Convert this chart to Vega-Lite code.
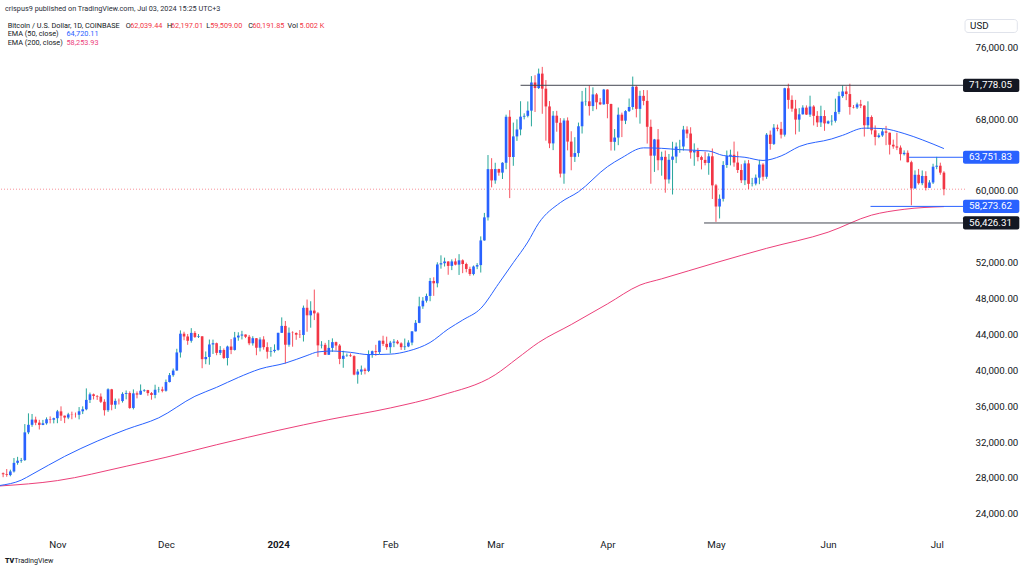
{
"$schema": "https://vega.github.io/schema/vega-lite/v6.json",
"width": 965, "height": 531,
"autosize": "none",
"padding": {"left": 0, "right": 59, "top": 0, "bottom": 39},
"background": "white",
"config": {"view": {"stroke": null}, "font": "Roboto", "text": {"font": "Roboto"}, "axis": {"grid": false, "domain": false, "ticks": false}},
"datasets": {
"one": [{}],
"candles": [
{"d":"2023-10-17","o":28510,"h":28610,"l":28080,"c":28410},
{"d":"2023-10-18","o":28410,"h":28990,"l":28130,"c":28320},
{"d":"2023-10-19","o":28320,"h":28920,"l":28180,"c":28720},
{"d":"2023-10-20","o":28720,"h":30220,"l":28600,"c":29680},
{"d":"2023-10-21","o":29680,"h":30350,"l":29470,"c":29920},
{"d":"2023-10-22","o":29920,"h":30230,"l":29690,"c":29990},
{"d":"2023-10-23","o":29990,"h":34000,"l":29890,"c":33080},
{"d":"2023-10-24","o":33080,"h":35200,"l":32880,"c":33920},
{"d":"2023-10-25","o":33920,"h":35130,"l":33700,"c":34500},
{"d":"2023-10-26","o":34500,"h":34830,"l":33880,"c":34160},
{"d":"2023-10-27","o":34160,"h":34480,"l":33400,"c":33910},
{"d":"2023-10-28","o":33910,"h":34470,"l":33880,"c":34090},
{"d":"2023-10-29","o":34090,"h":34750,"l":33940,"c":34540},
{"d":"2023-10-30","o":34540,"h":34860,"l":34080,"c":34490},
{"d":"2023-10-31","o":34490,"h":34720,"l":34080,"c":34660},
{"d":"2023-11-01","o":34660,"h":35580,"l":34100,"c":35420},
{"d":"2023-11-02","o":35420,"h":35980,"l":34360,"c":34940},
{"d":"2023-11-03","o":34940,"h":34950,"l":34110,"c":34730},
{"d":"2023-11-04","o":34730,"h":35260,"l":34550,"c":35080},
{"d":"2023-11-05","o":35080,"h":35390,"l":34540,"c":35050},
{"d":"2023-11-06","o":35050,"h":35290,"l":34730,"c":35040},
{"d":"2023-11-07","o":35040,"h":35900,"l":34530,"c":35430},
{"d":"2023-11-08","o":35430,"h":35980,"l":35120,"c":35650},
{"d":"2023-11-09","o":35650,"h":37980,"l":35540,"c":36700},
{"d":"2023-11-10","o":36700,"h":37520,"l":36350,"c":37320},
{"d":"2023-11-11","o":37320,"h":37410,"l":36750,"c":37140},
{"d":"2023-11-12","o":37140,"h":37230,"l":36700,"c":37070},
{"d":"2023-11-13","o":37070,"h":37420,"l":36350,"c":36490},
{"d":"2023-11-14","o":36490,"h":36770,"l":34950,"c":35550},
{"d":"2023-11-15","o":35550,"h":37990,"l":35360,"c":37880},
{"d":"2023-11-16","o":37880,"h":37930,"l":35540,"c":36160},
{"d":"2023-11-17","o":36160,"h":36850,"l":35700,"c":36590},
{"d":"2023-11-18","o":36590,"h":36850,"l":36190,"c":36570},
{"d":"2023-11-19","o":36570,"h":37550,"l":36400,"c":37370},
{"d":"2023-11-20","o":37370,"h":37750,"l":36760,"c":37470},
{"d":"2023-11-21","o":37470,"h":37650,"l":35700,"c":35800},
{"d":"2023-11-22","o":35800,"h":37870,"l":35640,"c":37430},
{"d":"2023-11-23","o":37430,"h":37650,"l":36870,"c":37290},
{"d":"2023-11-24","o":37290,"h":38420,"l":37260,"c":37720},
{"d":"2023-11-25","o":37720,"h":37900,"l":37600,"c":37790},
{"d":"2023-11-26","o":37790,"h":37820,"l":37160,"c":37460},
{"d":"2023-11-27","o":37460,"h":37580,"l":36720,"c":37250},
{"d":"2023-11-28","o":37250,"h":38390,"l":36880,"c":37830},
{"d":"2023-11-29","o":37830,"h":38150,"l":37520,"c":37860},
{"d":"2023-11-30","o":37860,"h":38170,"l":37540,"c":37720},
{"d":"2023-12-01","o":37720,"h":38970,"l":37620,"c":38690},
{"d":"2023-12-02","o":38690,"h":39700,"l":38650,"c":39460},
{"d":"2023-12-03","o":39460,"h":40200,"l":39280,"c":39970},
{"d":"2023-12-04","o":39970,"h":42400,"l":39970,"c":41990},
{"d":"2023-12-05","o":41990,"h":44450,"l":41420,"c":44080},
{"d":"2023-12-06","o":44080,"h":44300,"l":43350,"c":43770},
{"d":"2023-12-07","o":43770,"h":44050,"l":42840,"c":43290},
{"d":"2023-12-08","o":43290,"h":44700,"l":43080,"c":44170},
{"d":"2023-12-09","o":44170,"h":44370,"l":43600,"c":43720},
{"d":"2023-12-10","o":43720,"h":44040,"l":43600,"c":43790},
{"d":"2023-12-11","o":43790,"h":43800,"l":40230,"c":41240},
{"d":"2023-12-12","o":41240,"h":42100,"l":40680,"c":41480},
{"d":"2023-12-13","o":41480,"h":43430,"l":40620,"c":42880},
{"d":"2023-12-14","o":42880,"h":43420,"l":41820,"c":43020},
{"d":"2023-12-15","o":43020,"h":43090,"l":41680,"c":41940},
{"d":"2023-12-16","o":41940,"h":42700,"l":41700,"c":42260},
{"d":"2023-12-17","o":42260,"h":42440,"l":41250,"c":41370},
{"d":"2023-12-18","o":41370,"h":42750,"l":40540,"c":42650},
{"d":"2023-12-19","o":42650,"h":43480,"l":41800,"c":42270},
{"d":"2023-12-20","o":42270,"h":44280,"l":42200,"c":43660},
{"d":"2023-12-21","o":43660,"h":44240,"l":43300,"c":43870},
{"d":"2023-12-22","o":43870,"h":44400,"l":43440,"c":43990},
{"d":"2023-12-23","o":43990,"h":44000,"l":43590,"c":43740},
{"d":"2023-12-24","o":43740,"h":43940,"l":42800,"c":43010},
{"d":"2023-12-25","o":43010,"h":43800,"l":42750,"c":43580},
{"d":"2023-12-26","o":43580,"h":43600,"l":41680,"c":42520},
{"d":"2023-12-27","o":42520,"h":43680,"l":42100,"c":43440},
{"d":"2023-12-28","o":43440,"h":43800,"l":42300,"c":42580},
{"d":"2023-12-29","o":42580,"h":43120,"l":41300,"c":42070},
{"d":"2023-12-30","o":42070,"h":42600,"l":41520,"c":42140},
{"d":"2023-12-31","o":42140,"h":42890,"l":41970,"c":42280},
{"d":"2024-01-01","o":42280,"h":44180,"l":42180,"c":44180},
{"d":"2024-01-02","o":44180,"h":45900,"l":44170,"c":44950},
{"d":"2024-01-03","o":44950,"h":45500,"l":40750,"c":42850},
{"d":"2024-01-04","o":42850,"h":44770,"l":42630,"c":44190},
{"d":"2024-01-05","o":44190,"h":44350,"l":42630,"c":44160},
{"d":"2024-01-06","o":44160,"h":44230,"l":43400,"c":43970},
{"d":"2024-01-07","o":43970,"h":44490,"l":43600,"c":43940},
{"d":"2024-01-08","o":43940,"h":47220,"l":43210,"c":46970},
{"d":"2024-01-09","o":46970,"h":47890,"l":44300,"c":46130},
{"d":"2024-01-10","o":46130,"h":47700,"l":44750,"c":46660},
{"d":"2024-01-11","o":46660,"h":49000,"l":45600,"c":46350},
{"d":"2024-01-12","o":46350,"h":46500,"l":41500,"c":42780},
{"d":"2024-01-13","o":42780,"h":43250,"l":42440,"c":42840},
{"d":"2024-01-14","o":42840,"h":43060,"l":41720,"c":41730},
{"d":"2024-01-15","o":41730,"h":43380,"l":41720,"c":42500},
{"d":"2024-01-16","o":42500,"h":43560,"l":42050,"c":43140},
{"d":"2024-01-17","o":43140,"h":43200,"l":42200,"c":42760},
{"d":"2024-01-18","o":42760,"h":42930,"l":40680,"c":41270},
{"d":"2024-01-19","o":41270,"h":42180,"l":40280,"c":41620},
{"d":"2024-01-20","o":41620,"h":41870,"l":41500,"c":41660},
{"d":"2024-01-21","o":41660,"h":41880,"l":41500,"c":41580},
{"d":"2024-01-22","o":41580,"h":41670,"l":39440,"c":39520},
{"d":"2024-01-23","o":39520,"h":40130,"l":38510,"c":39860},
{"d":"2024-01-24","o":39860,"h":40530,"l":39500,"c":40090},
{"d":"2024-01-25","o":40090,"h":40280,"l":39550,"c":39930},
{"d":"2024-01-26","o":39930,"h":42220,"l":39800,"c":41820},
{"d":"2024-01-27","o":41820,"h":42200,"l":41400,"c":42130},
{"d":"2024-01-28","o":42130,"h":42840,"l":41620,"c":42030},
{"d":"2024-01-29","o":42030,"h":43300,"l":41820,"c":43300},
{"d":"2024-01-30","o":43300,"h":43850,"l":42700,"c":42950},
{"d":"2024-01-31","o":42950,"h":43750,"l":42280,"c":42580},
{"d":"2024-02-01","o":42580,"h":43280,"l":41880,"c":43080},
{"d":"2024-02-02","o":43080,"h":43480,"l":42580,"c":43200},
{"d":"2024-02-03","o":43200,"h":43380,"l":42890,"c":43000},
{"d":"2024-02-04","o":43000,"h":43120,"l":42270,"c":42580},
{"d":"2024-02-05","o":42580,"h":43540,"l":42260,"c":42660},
{"d":"2024-02-06","o":42660,"h":43350,"l":42580,"c":43090},
{"d":"2024-02-07","o":43090,"h":44370,"l":42790,"c":44340},
{"d":"2024-02-08","o":44340,"h":45600,"l":44330,"c":45290},
{"d":"2024-02-09","o":45290,"h":48200,"l":45250,"c":47130},
{"d":"2024-02-10","o":47130,"h":48160,"l":46850,"c":47760},
{"d":"2024-02-11","o":47760,"h":48550,"l":47550,"c":48290},
{"d":"2024-02-12","o":48290,"h":50300,"l":47700,"c":49960},
{"d":"2024-02-13","o":49960,"h":50370,"l":48300,"c":49700},
{"d":"2024-02-14","o":49700,"h":52040,"l":49250,"c":51800},
{"d":"2024-02-15","o":51800,"h":52820,"l":51330,"c":51940},
{"d":"2024-02-16","o":51940,"h":52560,"l":51570,"c":52130},
{"d":"2024-02-17","o":52130,"h":52170,"l":50650,"c":51640},
{"d":"2024-02-18","o":51640,"h":52370,"l":51170,"c":52140},
{"d":"2024-02-19","o":52140,"h":52480,"l":51700,"c":51780},
{"d":"2024-02-20","o":51780,"h":52950,"l":50630,"c":52260},
{"d":"2024-02-21","o":52260,"h":52370,"l":50830,"c":51850},
{"d":"2024-02-22","o":51850,"h":52000,"l":50920,"c":51300},
{"d":"2024-02-23","o":51300,"h":51550,"l":50530,"c":50730},
{"d":"2024-02-24","o":50730,"h":51680,"l":50580,"c":51570},
{"d":"2024-02-25","o":51570,"h":51950,"l":51280,"c":51730},
{"d":"2024-02-26","o":51730,"h":54930,"l":50900,"c":54480},
{"d":"2024-02-27","o":54480,"h":57550,"l":54450,"c":57050},
{"d":"2024-02-28","o":57050,"h":64000,"l":56700,"c":62430},
{"d":"2024-02-29","o":62430,"h":63650,"l":60400,"c":61170},
{"d":"2024-03-01","o":61170,"h":63140,"l":60800,"c":62440},
{"d":"2024-03-02","o":62440,"h":62480,"l":61700,"c":62040},
{"d":"2024-03-03","o":62040,"h":63200,"l":61330,"c":63140},
{"d":"2024-03-04","o":63140,"h":68500,"l":62420,"c":68270},
{"d":"2024-03-05","o":68270,"h":69000,"l":59200,"c":63780},
{"d":"2024-03-06","o":63780,"h":67620,"l":62800,"c":66080},
{"d":"2024-03-07","o":66080,"h":67980,"l":65580,"c":66850},
{"d":"2024-03-08","o":66850,"h":70000,"l":66200,"c":68280},
{"d":"2024-03-09","o":68280,"h":68650,"l":67980,"c":68370},
{"d":"2024-03-10","o":68370,"h":69980,"l":68200,"c":68950},
{"d":"2024-03-11","o":68950,"h":72800,"l":67200,"c":72090},
{"d":"2024-03-12","o":72090,"h":72900,"l":68800,"c":71470},
{"d":"2024-03-13","o":71470,"h":73640,"l":71360,"c":73080},
{"d":"2024-03-14","o":73080,"h":73830,"l":68600,"c":71400},
{"d":"2024-03-15","o":71400,"h":72360,"l":65600,"c":69420},
{"d":"2024-03-16","o":69420,"h":70020,"l":64770,"c":65300},
{"d":"2024-03-17","o":65300,"h":68900,"l":64550,"c":68390},
{"d":"2024-03-18","o":68390,"h":68930,"l":66600,"c":67600},
{"d":"2024-03-19","o":67600,"h":68120,"l":61500,"c":61930},
{"d":"2024-03-20","o":61930,"h":68100,"l":60800,"c":67850},
{"d":"2024-03-21","o":67850,"h":68200,"l":64520,"c":65500},
{"d":"2024-03-22","o":65500,"h":66650,"l":62300,"c":63800},
{"d":"2024-03-23","o":63800,"h":65990,"l":63230,"c":64220},
{"d":"2024-03-24","o":64220,"h":67620,"l":63800,"c":67210},
{"d":"2024-03-25","o":67210,"h":71150,"l":66400,"c":69960},
{"d":"2024-03-26","o":69960,"h":71500,"l":69500,"c":69990},
{"d":"2024-03-27","o":69990,"h":71770,"l":68400,"c":69460},
{"d":"2024-03-28","o":69460,"h":71550,"l":68900,"c":70760},
{"d":"2024-03-29","o":70760,"h":70920,"l":69100,"c":69880},
{"d":"2024-03-30","o":69880,"h":70350,"l":69570,"c":69650},
{"d":"2024-03-31","o":69650,"h":71370,"l":69620,"c":71300},
{"d":"2024-04-01","o":71300,"h":71330,"l":68100,"c":69700},
{"d":"2024-04-02","o":69700,"h":69710,"l":64500,"c":65470},
{"d":"2024-04-03","o":65470,"h":66900,"l":64500,"c":65950},
{"d":"2024-04-04","o":65950,"h":69300,"l":65100,"c":68500},
{"d":"2024-04-05","o":68500,"h":68730,"l":66000,"c":67830},
{"d":"2024-04-06","o":67830,"h":69000,"l":67450,"c":68900},
{"d":"2024-04-07","o":68900,"h":70300,"l":68800,"c":69360},
{"d":"2024-04-08","o":69360,"h":72750,"l":69050,"c":71620},
{"d":"2024-04-09","o":71620,"h":71750,"l":68200,"c":69150},
{"d":"2024-04-10","o":69150,"h":71170,"l":67500,"c":70600},
{"d":"2024-04-11","o":70600,"h":71250,"l":69550,"c":70040},
{"d":"2024-04-12","o":70040,"h":71230,"l":65280,"c":67150},
{"d":"2024-04-13","o":67150,"h":67950,"l":60800,"c":63930},
{"d":"2024-04-14","o":63930,"h":65800,"l":62120,"c":65740},
{"d":"2024-04-15","o":65740,"h":66900,"l":62300,"c":63420},
{"d":"2024-04-16","o":63420,"h":64370,"l":61700,"c":63800},
{"d":"2024-04-17","o":63800,"h":64500,"l":59800,"c":61280},
{"d":"2024-04-18","o":61280,"h":64120,"l":60820,"c":63470},
{"d":"2024-04-19","o":63470,"h":65480,"l":59600,"c":63830},
{"d":"2024-04-20","o":63830,"h":65400,"l":63100,"c":64940},
{"d":"2024-04-21","o":64940,"h":65700,"l":64250,"c":64950},
{"d":"2024-04-22","o":64950,"h":67250,"l":64500,"c":66840},
{"d":"2024-04-23","o":66840,"h":67200,"l":65880,"c":66400},
{"d":"2024-04-24","o":66400,"h":67100,"l":63600,"c":64290},
{"d":"2024-04-25","o":64290,"h":65300,"l":62800,"c":64500},
{"d":"2024-04-26","o":64500,"h":64800,"l":63300,"c":63770},
{"d":"2024-04-27","o":63770,"h":63930,"l":62400,"c":63460},
{"d":"2024-04-28","o":63460,"h":64370,"l":62850,"c":63120},
{"d":"2024-04-29","o":63120,"h":64200,"l":61800,"c":63860},
{"d":"2024-04-30","o":63860,"h":64730,"l":59100,"c":60620},
{"d":"2024-05-01","o":60620,"h":60780,"l":56550,"c":58260},
{"d":"2024-05-02","o":58260,"h":59600,"l":56930,"c":59120},
{"d":"2024-05-03","o":59120,"h":63320,"l":58820,"c":62890},
{"d":"2024-05-04","o":62890,"h":64500,"l":62570,"c":63890},
{"d":"2024-05-05","o":63890,"h":64600,"l":62850,"c":64030},
{"d":"2024-05-06","o":64030,"h":65500,"l":62700,"c":63160},
{"d":"2024-05-07","o":63160,"h":64400,"l":62000,"c":62330},
{"d":"2024-05-08","o":62330,"h":62980,"l":60880,"c":61190},
{"d":"2024-05-09","o":61190,"h":63400,"l":60650,"c":63070},
{"d":"2024-05-10","o":63070,"h":63450,"l":60200,"c":60790},
{"d":"2024-05-11","o":60790,"h":61450,"l":60500,"c":60820},
{"d":"2024-05-12","o":60820,"h":61830,"l":60620,"c":61480},
{"d":"2024-05-13","o":61480,"h":63450,"l":60750,"c":62940},
{"d":"2024-05-14","o":62940,"h":63100,"l":61150,"c":61580},
{"d":"2024-05-15","o":61580,"h":66450,"l":61350,"c":66270},
{"d":"2024-05-16","o":66270,"h":66730,"l":64600,"c":65240},
{"d":"2024-05-17","o":65240,"h":67450,"l":65120,"c":67050},
{"d":"2024-05-18","o":67050,"h":67400,"l":66650,"c":66920},
{"d":"2024-05-19","o":66920,"h":67700,"l":65850,"c":66270},
{"d":"2024-05-20","o":66270,"h":71500,"l":66060,"c":71450},
{"d":"2024-05-21","o":71450,"h":71950,"l":69160,"c":70150},
{"d":"2024-05-22","o":70150,"h":70650,"l":68830,"c":69170},
{"d":"2024-05-23","o":69170,"h":70150,"l":66300,"c":67950},
{"d":"2024-05-24","o":67950,"h":69230,"l":66600,"c":68540},
{"d":"2024-05-25","o":68540,"h":69550,"l":68520,"c":69290},
{"d":"2024-05-26","o":69290,"h":69540,"l":68470,"c":68510},
{"d":"2024-05-27","o":68510,"h":70620,"l":68250,"c":69410},
{"d":"2024-05-28","o":69410,"h":69560,"l":67300,"c":68370},
{"d":"2024-05-29","o":68370,"h":68900,"l":67130,"c":67640},
{"d":"2024-05-30","o":67640,"h":69500,"l":67130,"c":68350},
{"d":"2024-05-31","o":68350,"h":69000,"l":66700,"c":67530},
{"d":"2024-06-01","o":67530,"h":67860,"l":67450,"c":67760},
{"d":"2024-06-02","o":67760,"h":68450,"l":67300,"c":67820},
{"d":"2024-06-03","o":67820,"h":70290,"l":67620,"c":68810},
{"d":"2024-06-04","o":68810,"h":71060,"l":68560,"c":70570},
{"d":"2024-06-05","o":70570,"h":71770,"l":70380,"c":71090},
{"d":"2024-06-06","o":71090,"h":71650,"l":70120,"c":70800},
{"d":"2024-06-07","o":70800,"h":71950,"l":68500,"c":69350},
{"d":"2024-06-08","o":69350,"h":69580,"l":69200,"c":69310},
{"d":"2024-06-09","o":69310,"h":69850,"l":69140,"c":69650},
{"d":"2024-06-10","o":69650,"h":70150,"l":69230,"c":69510},
{"d":"2024-06-11","o":69510,"h":69560,"l":66060,"c":67320},
{"d":"2024-06-12","o":67320,"h":69990,"l":66900,"c":68240},
{"d":"2024-06-13","o":68240,"h":68420,"l":66300,"c":66760},
{"d":"2024-06-14","o":66760,"h":67300,"l":65080,"c":66010},
{"d":"2024-06-15","o":66010,"h":66430,"l":65880,"c":66190},
{"d":"2024-06-16","o":66190,"h":66950,"l":66030,"c":66640},
{"d":"2024-06-17","o":66640,"h":67250,"l":65100,"c":66490},
{"d":"2024-06-18","o":66490,"h":66500,"l":64060,"c":65150},
{"d":"2024-06-19","o":65150,"h":65720,"l":64700,"c":64960},
{"d":"2024-06-20","o":64960,"h":66480,"l":64550,"c":64830},
{"d":"2024-06-21","o":64830,"h":65070,"l":63400,"c":64100},
{"d":"2024-06-22","o":64100,"h":64520,"l":63950,"c":64250},
{"d":"2024-06-23","o":64250,"h":64520,"l":63180,"c":63200},
{"d":"2024-06-24","o":63200,"h":63370,"l":58400,"c":60280},
{"d":"2024-06-25","o":60280,"h":62290,"l":60250,"c":61800},
{"d":"2024-06-26","o":61800,"h":62450,"l":60700,"c":60860},
{"d":"2024-06-27","o":60860,"h":62280,"l":60640,"c":61670},
{"d":"2024-06-28","o":61670,"h":62190,"l":60050,"c":60340},
{"d":"2024-06-29","o":60340,"h":61200,"l":60330,"c":60940},
{"d":"2024-06-30","o":60940,"h":63030,"l":60770,"c":62700},
{"d":"2024-07-01","o":62700,"h":63800,"l":62420,"c":62810},
{"d":"2024-07-02","o":62810,"h":63150,"l":61800,"c":62040},
{"d":"2024-07-03","o":62039.44,"h":62197.01,"l":59509,"c":60191.85}
],
"e50": [
{"d":"2023-10-16","v":27150},{"d":"2023-10-22","v":27750},{"d":"2023-10-25","v":28400},{"d":"2023-11-03","v":30400},
{"d":"2023-11-12","v":32100},{"d":"2023-11-20","v":33400},{"d":"2023-11-29","v":34700},{"d":"2023-12-09","v":37100},
{"d":"2023-12-15","v":38100},{"d":"2023-12-21","v":39200},{"d":"2023-12-27","v":40150},{"d":"2024-01-03","v":40800},
{"d":"2024-01-09","v":41650},{"d":"2024-01-12","v":42050},{"d":"2024-01-16","v":42150},{"d":"2024-01-21","v":42000},
{"d":"2024-01-26","v":41750},{"d":"2024-02-01","v":41800},{"d":"2024-02-06","v":42150},{"d":"2024-02-12","v":43100},
{"d":"2024-02-17","v":44600},{"d":"2024-02-21","v":45600},{"d":"2024-02-26","v":46900},{"d":"2024-03-02","v":49700},
{"d":"2024-03-06","v":52000},{"d":"2024-03-10","v":54300},{"d":"2024-03-13","v":56400},{"d":"2024-03-19","v":58700},
{"d":"2024-03-24","v":59900},{"d":"2024-04-01","v":62700},{"d":"2024-04-05","v":63700},{"d":"2024-04-11","v":64800},
{"d":"2024-04-16","v":64750},{"d":"2024-04-21","v":64600},{"d":"2024-04-29","v":64450},{"d":"2024-05-03","v":63950},
{"d":"2024-05-09","v":63750},{"d":"2024-05-14","v":63400},{"d":"2024-05-19","v":63900},{"d":"2024-05-24","v":64950},
{"d":"2024-06-02","v":65800},{"d":"2024-06-05","v":66200},{"d":"2024-06-11","v":67000},{"d":"2024-06-16","v":66950},
{"d":"2024-06-22","v":66400},{"d":"2024-06-27","v":65700},{"d":"2024-07-03","v":64720}
],
"e200": [
{"d":"2023-10-16","v":27100},{"d":"2023-11-01","v":27700},{"d":"2023-11-20","v":29300},{"d":"2023-12-01","v":30300},
{"d":"2023-12-15","v":31700},{"d":"2024-01-01","v":33300},{"d":"2024-01-15","v":34500},{"d":"2024-02-01","v":35800},
{"d":"2024-02-15","v":37200},{"d":"2024-03-01","v":39500},{"d":"2024-03-07","v":41300},{"d":"2024-03-13","v":43100},
{"d":"2024-03-22","v":45100},{"d":"2024-04-01","v":47400},{"d":"2024-04-10","v":49500},{"d":"2024-04-16","v":50200},
{"d":"2024-05-01","v":52000},{"d":"2024-05-15","v":53600},{"d":"2024-06-01","v":55400},{"d":"2024-06-13","v":57300},
{"d":"2024-06-22","v":57950},{"d":"2024-07-03","v":58250}
],
"levels": [
{"v":71778.05,"from":"2024-03-08T00:00:00Z","kind":"black"},
{"v":63751.83,"from":"2024-06-23T09:00:00Z","kind":"blue"},
{"v":58273.62,"from":"2024-06-12T17:00:00Z","kind":"blue"},
{"v":56426.31,"from":"2024-04-27T17:00:00Z","kind":"black"}
]
},
"layer": [
{"data": {"name": "candles"},
 "mark": {"type": "rule", "strokeWidth": 1},
 "encoding": {
  "x": {"field": "d", "type": "temporal", "title": null,
   "scale": {"type": "utc", "domain": [{"year":2023,"month":10,"date":17,"hours":12,"minutes":31,"utc":true},{"year":2024,"month":7,"date":7,"hours":10,"minutes":34,"utc":true}]},
   "axis": {"values": [{"year":2023,"month":11,"date":1,"utc":true},{"year":2023,"month":12,"date":1,"utc":true},{"year":2024,"month":1,"date":1,"utc":true},{"year":2024,"month":2,"date":1,"utc":true},{"year":2024,"month":3,"date":1,"utc":true},{"year":2024,"month":4,"date":1,"utc":true},{"year":2024,"month":5,"date":1,"utc":true},{"year":2024,"month":6,"date":1,"utc":true},{"year":2024,"month":7,"date":1,"utc":true}],
    "labelExpr": "utcmonth(datum.value) == 0 ? utcFormat(datum.value, '%Y') : utcFormat(datum.value, '%b')",
    "labelFontWeight": {"condition": {"test": "utcmonth(datum.value) == 0", "value": "bold"}, "value": "normal"},
    "grid": false, "domain": false, "ticks": false, "title": null, "labelPadding": 8, "labelFontSize": 9.75, "labelColor": "#131722", "labelFont": "Roboto", "labelFlush": false, "labelOverlap": false}},
  "y": {"field": "l", "type": "quantitative", "title": null,
   "scale": {"domain": [22639, 80730], "zero": false, "nice": false},
   "axis": {"orient": "right", "values": [24000, 28000, 32000, 36000, 40000, 44000, 48000, 52000, 60000, 68000, 76000], "format": ",.2f", "grid": false, "domain": false, "ticks": false, "title": null, "labelPadding": 10, "labelAlign": "left", "labelBaseline": "middle", "labelFontSize": 9.75, "labelColor": "#131722", "labelFont": "Roboto"}},
  "y2": {"field": "h"},
  "color": {"condition": {"test": "datum.c >= datum.o", "value": "#26a69a"}, "value": "#f7525f"}}},
{"data": {"name": "one"},
 "mark": {"type": "rule", "color": "#f23645", "opacity": 0.55, "strokeDash": [1, 2], "strokeWidth": 1},
 "encoding": {"y": {"datum": 60191.85, "type": "quantitative", "title": null}}},
{"data": {"name": "candles"},
 "mark": {"type": "bar", "size": 2.64},
 "encoding": {
  "x": {"field": "d", "type": "temporal", "title": null},
  "y": {"field": "o", "type": "quantitative", "title": null},
  "y2": {"field": "c"},
  "color": {"condition": {"test": "datum.c >= datum.o", "value": "#2962ff"}, "value": "#f23645"}}},
{"data": {"name": "e200"},
 "mark": {"type": "line", "color": "#ec407a", "strokeWidth": 1, "interpolate": "monotone", "clip": true},
 "encoding": {"x": {"field": "d", "type": "temporal", "title": null}, "y": {"field": "v", "type": "quantitative", "title": null}}},
{"data": {"name": "e50"},
 "mark": {"type": "line", "color": "#2962ff", "strokeWidth": 1, "interpolate": "monotone", "clip": true},
 "encoding": {"x": {"field": "d", "type": "temporal", "title": null}, "y": {"field": "v", "type": "quantitative", "title": null}}},
{"data": {"name": "levels"},
 "mark": {"type": "rule", "strokeWidth": 1},
 "encoding": {
  "x": {"field": "from", "type": "temporal", "title": null},
  "x2": {"datum": {"year":2024,"month":7,"date":8,"hours":6,"minutes":40,"utc":true}},
  "y": {"field": "v", "type": "quantitative", "title": null},
  "color": {"condition": {"test": "datum.kind == 'blue'", "value": "#2962ff"}, "value": "#434651"}}},
{"data": {"name": "levels"},
 "mark": {"type": "bar", "size": 13.2, "cornerRadius": 2},
 "encoding": {
  "x": {"datum": {"year":2024,"month":7,"date":8,"hours":6,"minutes":40,"utc":true}, "type": "temporal", "title": null},
  "x2": {"datum": {"year":2024,"month":7,"date":23,"hours":20,"utc":true}},
  "y": {"field": "v", "type": "quantitative", "title": null},
  "color": {"condition": {"test": "datum.kind == 'blue'", "value": "#2962ff"}, "value": "#131722"}}},
{"data": {"name": "levels"},
 "mark": {"type": "text", "align": "left", "baseline": "middle", "dx": 6, "fontSize": 9.75, "color": "white"},
 "encoding": {
  "x": {"datum": {"year":2024,"month":7,"date":8,"hours":6,"minutes":40,"utc":true}, "type": "temporal", "title": null},
  "y": {"field": "v", "type": "quantitative", "title": null},
  "text": {"field": "v", "type": "quantitative", "format": ",.2f"}}},
{"data": {"name": "one"},
 "mark": {"type": "bar", "color": "white", "stroke": "#e0e3eb", "strokeWidth": 1, "cornerRadius": 3},
 "encoding": {
  "x": {"datum": {"year":2024,"month":7,"date":8,"hours":20,"utc":true}, "type": "temporal", "title": null},
  "x2": {"datum": {"year":2024,"month":7,"date":23,"hours":6,"minutes":40,"utc":true}},
  "y": {"datum": 79111, "type": "quantitative", "title": null},
  "y2": {"datum": 77667}}},
{"data": {"name": "one"},
 "mark": {"type": "text", "align": "left", "baseline": "middle", "fontSize": 9.75, "color": "#131722"},
 "encoding": {"x": {"datum": {"year":2024,"month":7,"date":10,"hours":5,"minutes":20,"utc":true}, "type": "temporal", "title": null}, "y": {"datum": 78389, "type": "quantitative", "title": null}, "text": {"value": "USD"}}},
{"data": {"name": "one"},
 "mark": {"type": "text", "align": "left", "baseline": "middle", "fontSize": 7.3, "color": "#2a2e39"},
 "encoding": {"x": {"datum": {"year":2023,"month":10,"date":17,"hours":12,"minutes":40,"utc":true}, "type": "temporal", "title": null}, "y": {"datum": 80333, "type": "quantitative", "title": null}, "text": {"value": "crispus9 published on TradingView.com, Jul 03, 2024 15:25 UTC+3"}}},
{"data": {"name": "one"},
 "mark": {"type": "text", "align": "left", "baseline": "middle", "fontSize": 7.3, "color": "#131722"},
 "encoding": {"x": {"datum": {"year":2023,"month":10,"date":18,"hours":6,"utc":true}, "type": "temporal", "title": null}, "y": {"datum": 78444, "type": "quantitative", "title": null}, "text": {"value": "Bitcoin / U.S. Dollar, 1D, COINBASE"}}},
{"data": {"name": "one"},
 "mark": {"type": "text", "align": "left", "baseline": "middle", "fontSize": 7.3, "color": "#131722"},
 "encoding": {"x": {"datum": {"year":2023,"month":11,"date":19,"hours":21,"minutes":20,"utc":true}, "type": "temporal", "title": null}, "y": {"datum": 78444, "type": "quantitative", "title": null}, "text": {"value": "O"}}},
{"data": {"name": "one"},
 "mark": {"type": "text", "align": "left", "baseline": "middle", "fontSize": 7.3, "color": "#f23645"},
 "encoding": {"x": {"datum": {"year":2023,"month":11,"date":21,"hours":3,"minutes":20,"utc":true}, "type": "temporal", "title": null}, "y": {"datum": 78444, "type": "quantitative", "title": null}, "text": {"value": "62,039.44"}}},
{"data": {"name": "one"},
 "mark": {"type": "text", "align": "left", "baseline": "middle", "fontSize": 7.3, "color": "#131722"},
 "encoding": {"x": {"datum": {"year":2023,"month":12,"date":1,"hours":6,"minutes":40,"utc":true}, "type": "temporal", "title": null}, "y": {"datum": 78444, "type": "quantitative", "title": null}, "text": {"value": "H"}}},
{"data": {"name": "one"},
 "mark": {"type": "text", "align": "left", "baseline": "middle", "fontSize": 7.3, "color": "#f23645"},
 "encoding": {"x": {"datum": {"year":2023,"month":12,"date":2,"hours":9,"minutes":20,"utc":true}, "type": "temporal", "title": null}, "y": {"datum": 78444, "type": "quantitative", "title": null}, "text": {"value": "62,197.01"}}},
{"data": {"name": "one"},
 "mark": {"type": "text", "align": "left", "baseline": "middle", "fontSize": 7.3, "color": "#131722"},
 "encoding": {"x": {"datum": {"year":2023,"month":12,"date":12,"hours":2,"minutes":40,"utc":true}, "type": "temporal", "title": null}, "y": {"datum": 78444, "type": "quantitative", "title": null}, "text": {"value": "L"}}},
{"data": {"name": "one"},
 "mark": {"type": "text", "align": "left", "baseline": "middle", "fontSize": 7.3, "color": "#f23645"},
 "encoding": {"x": {"datum": {"year":2023,"month":12,"date":13,"hours":5,"minutes":20,"utc":true}, "type": "temporal", "title": null}, "y": {"datum": 78444, "type": "quantitative", "title": null}, "text": {"value": "59,509.00"}}},
{"data": {"name": "one"},
 "mark": {"type": "text", "align": "left", "baseline": "middle", "fontSize": 7.3, "color": "#131722"},
 "encoding": {"x": {"datum": {"year":2023,"month":12,"date":23,"hours":18,"minutes":40,"utc":true}, "type": "temporal", "title": null}, "y": {"datum": 78444, "type": "quantitative", "title": null}, "text": {"value": "C"}}},
{"data": {"name": "one"},
 "mark": {"type": "text", "align": "left", "baseline": "middle", "fontSize": 7.3, "color": "#f23645"},
 "encoding": {"x": {"datum": {"year":2023,"month":12,"date":24,"hours":21,"minutes":20,"utc":true}, "type": "temporal", "title": null}, "y": {"datum": 78444, "type": "quantitative", "title": null}, "text": {"value": "60,191.85"}}},
{"data": {"name": "one"},
 "mark": {"type": "text", "align": "left", "baseline": "middle", "fontSize": 7.3, "color": "#131722"},
 "encoding": {"x": {"datum": {"year":2024,"month":1,"date":3,"hours":14,"minutes":40,"utc":true}, "type": "temporal", "title": null}, "y": {"datum": 78444, "type": "quantitative", "title": null}, "text": {"value": "Vol"}}},
{"data": {"name": "one"},
 "mark": {"type": "text", "align": "left", "baseline": "middle", "fontSize": 7.3, "color": "#f23645"},
 "encoding": {"x": {"datum": {"year":2024,"month":1,"date":6,"hours":22,"minutes":30,"utc":true}, "type": "temporal", "title": null}, "y": {"datum": 78444, "type": "quantitative", "title": null}, "text": {"value": "5.002 K"}}},
{"data": {"name": "one"},
 "mark": {"type": "text", "align": "left", "baseline": "middle", "fontSize": 7.3, "color": "#131722"},
 "encoding": {"x": {"datum": {"year":2023,"month":10,"date":18,"hours":6,"utc":true}, "type": "temporal", "title": null}, "y": {"datum": 77444, "type": "quantitative", "title": null}, "text": {"value": "EMA (50, close)"}}},
{"data": {"name": "one"},
 "mark": {"type": "text", "align": "left", "baseline": "middle", "fontSize": 7.3, "color": "#2962ff"},
 "encoding": {"x": {"datum": {"year":2023,"month":11,"date":3,"hours":12,"utc":true}, "type": "temporal", "title": null}, "y": {"datum": 77444, "type": "quantitative", "title": null}, "text": {"value": "64,720.11"}}},
{"data": {"name": "one"},
 "mark": {"type": "text", "align": "left", "baseline": "middle", "fontSize": 7.3, "color": "#131722"},
 "encoding": {"x": {"datum": {"year":2023,"month":10,"date":18,"hours":6,"utc":true}, "type": "temporal", "title": null}, "y": {"datum": 76444, "type": "quantitative", "title": null}, "text": {"value": "EMA (200, close)"}}},
{"data": {"name": "one"},
 "mark": {"type": "text", "align": "left", "baseline": "middle", "fontSize": 7.3, "color": "#ec407a"},
 "encoding": {"x": {"datum": {"year":2023,"month":11,"date":3,"hours":12,"utc":true}, "type": "temporal", "title": null}, "y": {"datum": 76444, "type": "quantitative", "title": null}, "text": {"value": "58,253.93"}}},
{"data": {"name": "one"},
 "mark": {"type": "text", "align": "left", "baseline": "middle", "fontSize": 7.1, "fontWeight": 900, "color": "#131722"},
 "encoding": {"x": {"datum": {"year":2023,"month":10,"date":17,"hours":12,"minutes":40,"utc":true}, "type": "temporal", "title": null}, "y": {"datum": 18778, "type": "quantitative", "title": null}, "text": {"value": "TV"}}},
{"data": {"name": "one"},
 "mark": {"type": "text", "align": "left", "baseline": "middle", "fontSize": 7.1, "color": "#131722"},
 "encoding": {"x": {"datum": {"year":2023,"month":10,"date":20,"hours":1,"minutes":26,"utc":true}, "type": "temporal", "title": null}, "y": {"datum": 18778, "type": "quantitative", "title": null}, "text": {"value": "TradingView"}}}
]
}
